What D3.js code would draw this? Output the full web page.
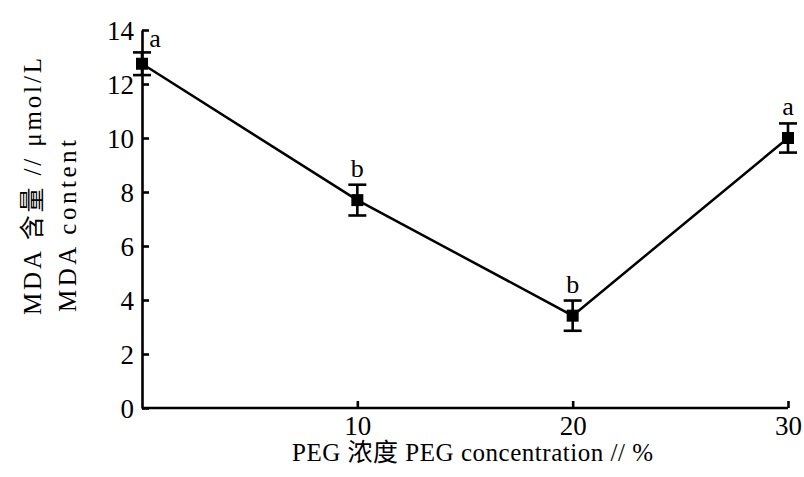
<!DOCTYPE html>
<html>
<head>
<meta charset="utf-8">
<script src="https://cdn.jsdelivr.net/npm/d3@7"></script>
<style>
  body { margin: 0; background: #fff; }
  svg text { font-family: "Liberation Serif", "Noto Sans CJK SC", serif; fill: #000; }
</style>
</head>
<body>
<svg id="chart" width="804" height="477"></svg>
<script>
// PEG concentration (%) and MDA content
const concentrations = [0, 10, 20, 30];
const mdaValues = [12.75, 7.7, 3.42, 10.0];
const mdaErrors = [0.42, 0.57, 0.56, 0.54];
const sigLetters = ["a", "b", "b", "a"];
const xTicks = [10, 20, 30];
const yTicks = [0, 2, 4, 6, 8, 10, 12, 14];

const svg = d3.select("#chart");
const margin = { left: 142, right: 16, top: 30, bottom: 69 };
const W = 804, H = 477;

const x = d3.scaleLinear().domain([0, 30]).range([margin.left, W - margin.right]);
const y = d3.scaleLinear().domain([0, 14]).range([H - margin.bottom, margin.top]);

// axes: ticks point inward
const xAxis = d3.axisBottom(x).tickValues(xTicks).tickSize(-7).tickPadding(13).tickSizeOuter(0);
const yAxis = d3.axisLeft(y).tickValues(yTicks).tickSize(-7).tickPadding(8).tickSizeOuter(0);

const gx = svg.append("g").attr("transform", `translate(0,${y(0)})`).call(xAxis);
const gy = svg.append("g").attr("transform", `translate(${x(0)},0)`).call(yAxis);

[gx, gy].forEach(g => {
  g.select(".domain").attr("stroke", "#000").attr("stroke-width", 2.6);
  g.selectAll(".tick line").attr("stroke", "#000").attr("stroke-width", 2.6);
  g.selectAll(".tick text").style("font-size", "27px").attr("fill", "#000");
});
gx.select(".domain").attr("d", `M${x(0)},0H${x(30)}`);
gx.selectAll(".tick text").attr("dy", "0.5em");
gy.selectAll(".tick text").attr("dy", "0.35em");

// connecting line
svg.append("path")
  .datum(concentrations.map((c, i) => [c, mdaValues[i]]))
  .attr("fill", "none").attr("stroke", "#000").attr("stroke-width", 2.5)
  .attr("d", d3.line().x(d => x(d[0])).y(d => y(d[1])));

// error bars
const eb = svg.append("g").selectAll("g").data(concentrations).join("g")
  .attr("stroke", "#000").attr("stroke-width", 2.6);
eb.append("line")
  .attr("x1", d => x(d)).attr("x2", d => x(d))
  .attr("y1", (d, i) => y(mdaValues[i] + mdaErrors[i]))
  .attr("y2", (d, i) => y(mdaValues[i] - mdaErrors[i]));
[1, -1].forEach(s => {
  eb.append("line")
    .attr("x1", d => x(d) - 9).attr("x2", d => x(d) + 9)
    .attr("y1", (d, i) => y(mdaValues[i] + s * mdaErrors[i]))
    .attr("y2", (d, i) => y(mdaValues[i] + s * mdaErrors[i]));
});

// markers
svg.append("g").selectAll("rect").data(concentrations).join("rect")
  .attr("x", d => x(d) - 6).attr("y", (d, i) => y(mdaValues[i]) - 6)
  .attr("width", 12).attr("height", 12).attr("fill", "#000");

// significance letters
svg.append("g").selectAll("text").data(concentrations).join("text")
  .attr("x", (d, i) => x(d) + (i === 0 ? 13 : 0))
  .attr("y", (d, i) => i === 0 ? y(14) + 17 : y(mdaValues[i] + mdaErrors[i]) - 8)
  .attr("text-anchor", "middle")
  .style("font-size", "26px")
  .text((d, i) => sigLetters[i]);

// axis titles
svg.append("text")
  .attr("x", 292).attr("y", 461)
  .attr("textLength", 361).attr("lengthAdjust", "spacing")
  .style("font-size", "25px")
  .text("PEG 浓度 PEG concentration // %");

svg.append("text")
  .attr("transform", "translate(41,315) rotate(-90)")
  .attr("textLength", 257).attr("lengthAdjust", "spacing")
  .style("font-size", "25px")
  .text("MDA 含量 // μmol/L");
svg.append("text")
  .attr("transform", "translate(76,312) rotate(-90)")
  .attr("textLength", 172).attr("lengthAdjust", "spacing")
  .style("font-size", "25px")
  .text("MDA content");
</script>
</body>
</html>
